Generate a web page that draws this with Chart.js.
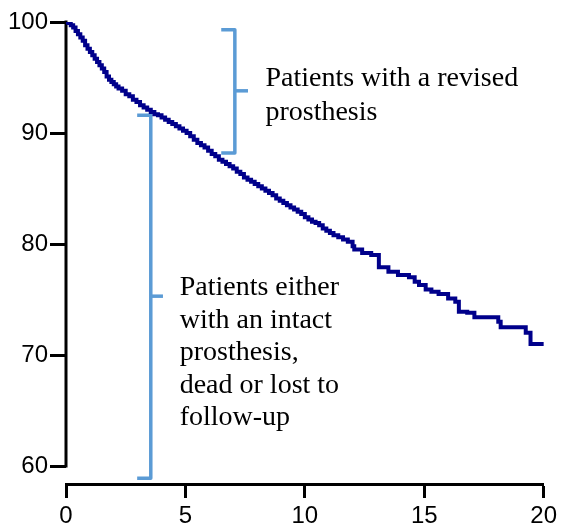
<!DOCTYPE html>
<html>
<head>
<meta charset="utf-8">
<script src="https://cdn.jsdelivr.net/npm/chart.js@4/dist/chart.umd.min.js"></script>
<style>
  html, body { margin: 0; padding: 0; background: #ffffff; }
  #wrap { width: 561px; height: 525px; position: relative; }
</style>
</head>
<body>
<div id="wrap"><canvas id="c" width="561" height="525"></canvas></div>
<script>
// Time (years) at which the Kaplan-Meier estimate steps to the value below
const years = [0.00, 0.10, 0.20, 0.30, 0.40, 0.50, 0.60, 0.70, 0.80, 0.90,
  1.00, 1.10, 1.20, 1.30, 1.40, 1.50, 1.60, 1.70, 1.80, 1.90,
  2.00, 2.10, 2.20, 2.35, 2.50, 2.65, 2.80, 2.95, 3.10, 3.25,
  3.40, 3.55, 3.70, 3.85, 4.00, 4.15, 4.30, 4.45, 4.60, 4.75,
  4.90, 5.05, 5.20, 5.35, 5.50, 5.65, 5.80, 5.95, 6.10, 6.25,
  6.40, 6.55, 6.70, 6.85, 7.00, 7.15, 7.30, 7.45, 7.60, 7.75,
  7.90, 8.05, 8.20, 8.35, 8.50, 8.65, 8.80, 8.95, 9.10, 9.25,
  9.40, 9.55, 9.70, 9.85, 10.00, 10.15, 10.30, 10.45, 10.60, 10.75,
  10.90, 11.05, 11.20, 11.40, 11.60, 11.80, 12.00, 12.07, 12.40, 12.78,
  13.10, 13.50, 13.90, 14.36, 14.60, 14.78, 15.06, 15.30, 15.60, 16.00,
  16.30, 16.45, 16.80, 17.10, 18.10, 18.20, 19.25, 19.45, 20.10];
// Prosthesis survival (%)
const survival = [100.0, 99.9, 99.7, 99.5, 99.2, 98.9, 98.6, 98.3, 97.9, 97.6,
  97.3, 97.0, 96.7, 96.4, 96.1, 95.8, 95.5, 95.1, 94.8, 94.6,
  94.4, 94.2, 94.0, 93.8, 93.5, 93.3, 93.0, 92.8, 92.5, 92.3,
  92.1, 91.9, 91.7, 91.6, 91.4, 91.2, 91.0, 90.8, 90.6, 90.4,
  90.2, 90.0, 89.7, 89.4, 89.1, 88.9, 88.7, 88.4, 88.1, 87.9,
  87.6, 87.4, 87.2, 87.0, 86.8, 86.5, 86.3, 86.0, 85.8, 85.6,
  85.4, 85.2, 85.0, 84.8, 84.6, 84.4, 84.1, 83.9, 83.7, 83.5,
  83.3, 83.1, 82.9, 82.7, 82.4, 82.2, 82.0, 81.9, 81.7, 81.4,
  81.2, 81.0, 80.8, 80.6, 80.4, 80.2, 79.8, 79.5, 79.2, 79.0,
  77.9, 77.5, 77.2, 77.0, 76.6, 76.3, 75.9, 75.7, 75.5, 75.1,
  74.8, 73.9, 73.8, 73.4, 73.0, 72.5, 72.0, 71.0, 71.0];
const xTicks = [0, 5, 10, 15, 20];
const yTicks = [60, 70, 80, 90, 100];
const labelRevised = ["Patients with a revised", "prosthesis"];
const labelOthers = ["Patients either", "with an intact", "prosthesis,", "dead or lost to", "follow-up"];

const points = years.map((t, i) => ({ x: t, y: survival[i] }));

const BRACKET = '#5B9BD5';

const annotations = {
  id: 'annotations',
  beforeDatasetsDraw(chart) {
    const { ctx, scales: { x, y } } = chart;
    ctx.save();
    // y axis line from 60 to 100 (detached from x axis)
    ctx.strokeStyle = '#000';
    ctx.lineWidth = 3;
    ctx.beginPath();
    ctx.moveTo(x.getPixelForValue(0), y.getPixelForValue(100) - 1.5);
    ctx.lineTo(x.getPixelForValue(0), y.getPixelForValue(60) + 1.5);
    ctx.stroke();

    // brackets
    ctx.strokeStyle = BRACKET;
    ctx.lineWidth = 3.5;
    ctx.lineJoin = 'round';
    ctx.lineCap = 'butt';
    function bracket(xEnd, xBar, xTip, yTop, yBot, yMid) {
      const e = x.getPixelForValue(xEnd), b = x.getPixelForValue(xBar), tp = x.getPixelForValue(xTip);
      const t = y.getPixelForValue(yTop), bt = y.getPixelForValue(yBot), m = y.getPixelForValue(yMid);
      ctx.beginPath();
      ctx.moveTo(e, t);
      ctx.lineTo(b, t);
      ctx.lineTo(b, bt);
      ctx.lineTo(e, bt);
      ctx.stroke();
      ctx.beginPath();
      ctx.moveTo(b, m);
      ctx.lineTo(tp, m);
      ctx.stroke();
    }
    bracket(6.5, 7.07, 7.62, 99.3, 88.2, 93.8);
    bracket(2.98, 3.55, 4.06, 91.6, 58.9, 75.3);

    // texts
    ctx.fillStyle = '#000';
    ctx.font = '28px "Liberation Serif", "Times New Roman", serif';
    ctx.textAlign = 'left';
    ctx.textBaseline = 'alphabetic';
    const l1 = x.getPixelForValue(8.35);
    labelRevised.forEach((s, i) => ctx.fillText(s, l1, 86 + i * 34));
    const l2 = x.getPixelForValue(4.76);
    labelOthers.forEach((s, i) => ctx.fillText(s, l2, 295 + i * 32.5));
    ctx.restore();
  }
};

new Chart(document.getElementById('c'), {
  type: 'line',
  data: {
    datasets: [{
      data: points,
      borderColor: '#00008B',
      borderWidth: 4,
      pointRadius: 0,
      stepped: true,
      fill: false,
      tension: 0
    }]
  },
  options: {
    responsive: false,
    animation: false,
    events: [],
    layout: { padding: { top: 22, right: 16, left: 0, bottom: 0 } },
    plugins: { legend: { display: false }, tooltip: { enabled: false } },
    scales: {
      x: {
        type: 'linear',
        min: 0,
        max: 20,
        afterBuildTicks(s) { s.ticks = xTicks.map(v => ({ value: v })); },
        afterFit(s) { s.height = 41; },
        border: { display: true, color: '#000', width: 3 },
        grid: { display: true, drawOnChartArea: false, drawTicks: true, tickLength: 14, tickWidth: 3, tickColor: '#000' },
        ticks: { color: '#000', padding: 4, maxRotation: 0, font: { family: '"Liberation Sans", Arial, sans-serif', size: 24 } }
      },
      y: {
        type: 'linear',
        min: 58.38,
        max: 100,
        afterBuildTicks(s) { s.ticks = yTicks.map(v => ({ value: v })); },
        afterFit(s) { s.width = 66; },
        border: { display: false },
        grid: { display: true, drawOnChartArea: false, drawTicks: true, tickLength: 16, tickWidth: 3, tickColor: '#000' },
        ticks: { color: '#000', padding: 2, font: { family: '"Liberation Sans", Arial, sans-serif', size: 24 } }
      }
    }
  },
  plugins: [annotations]
});
</script>
</body>
</html>
